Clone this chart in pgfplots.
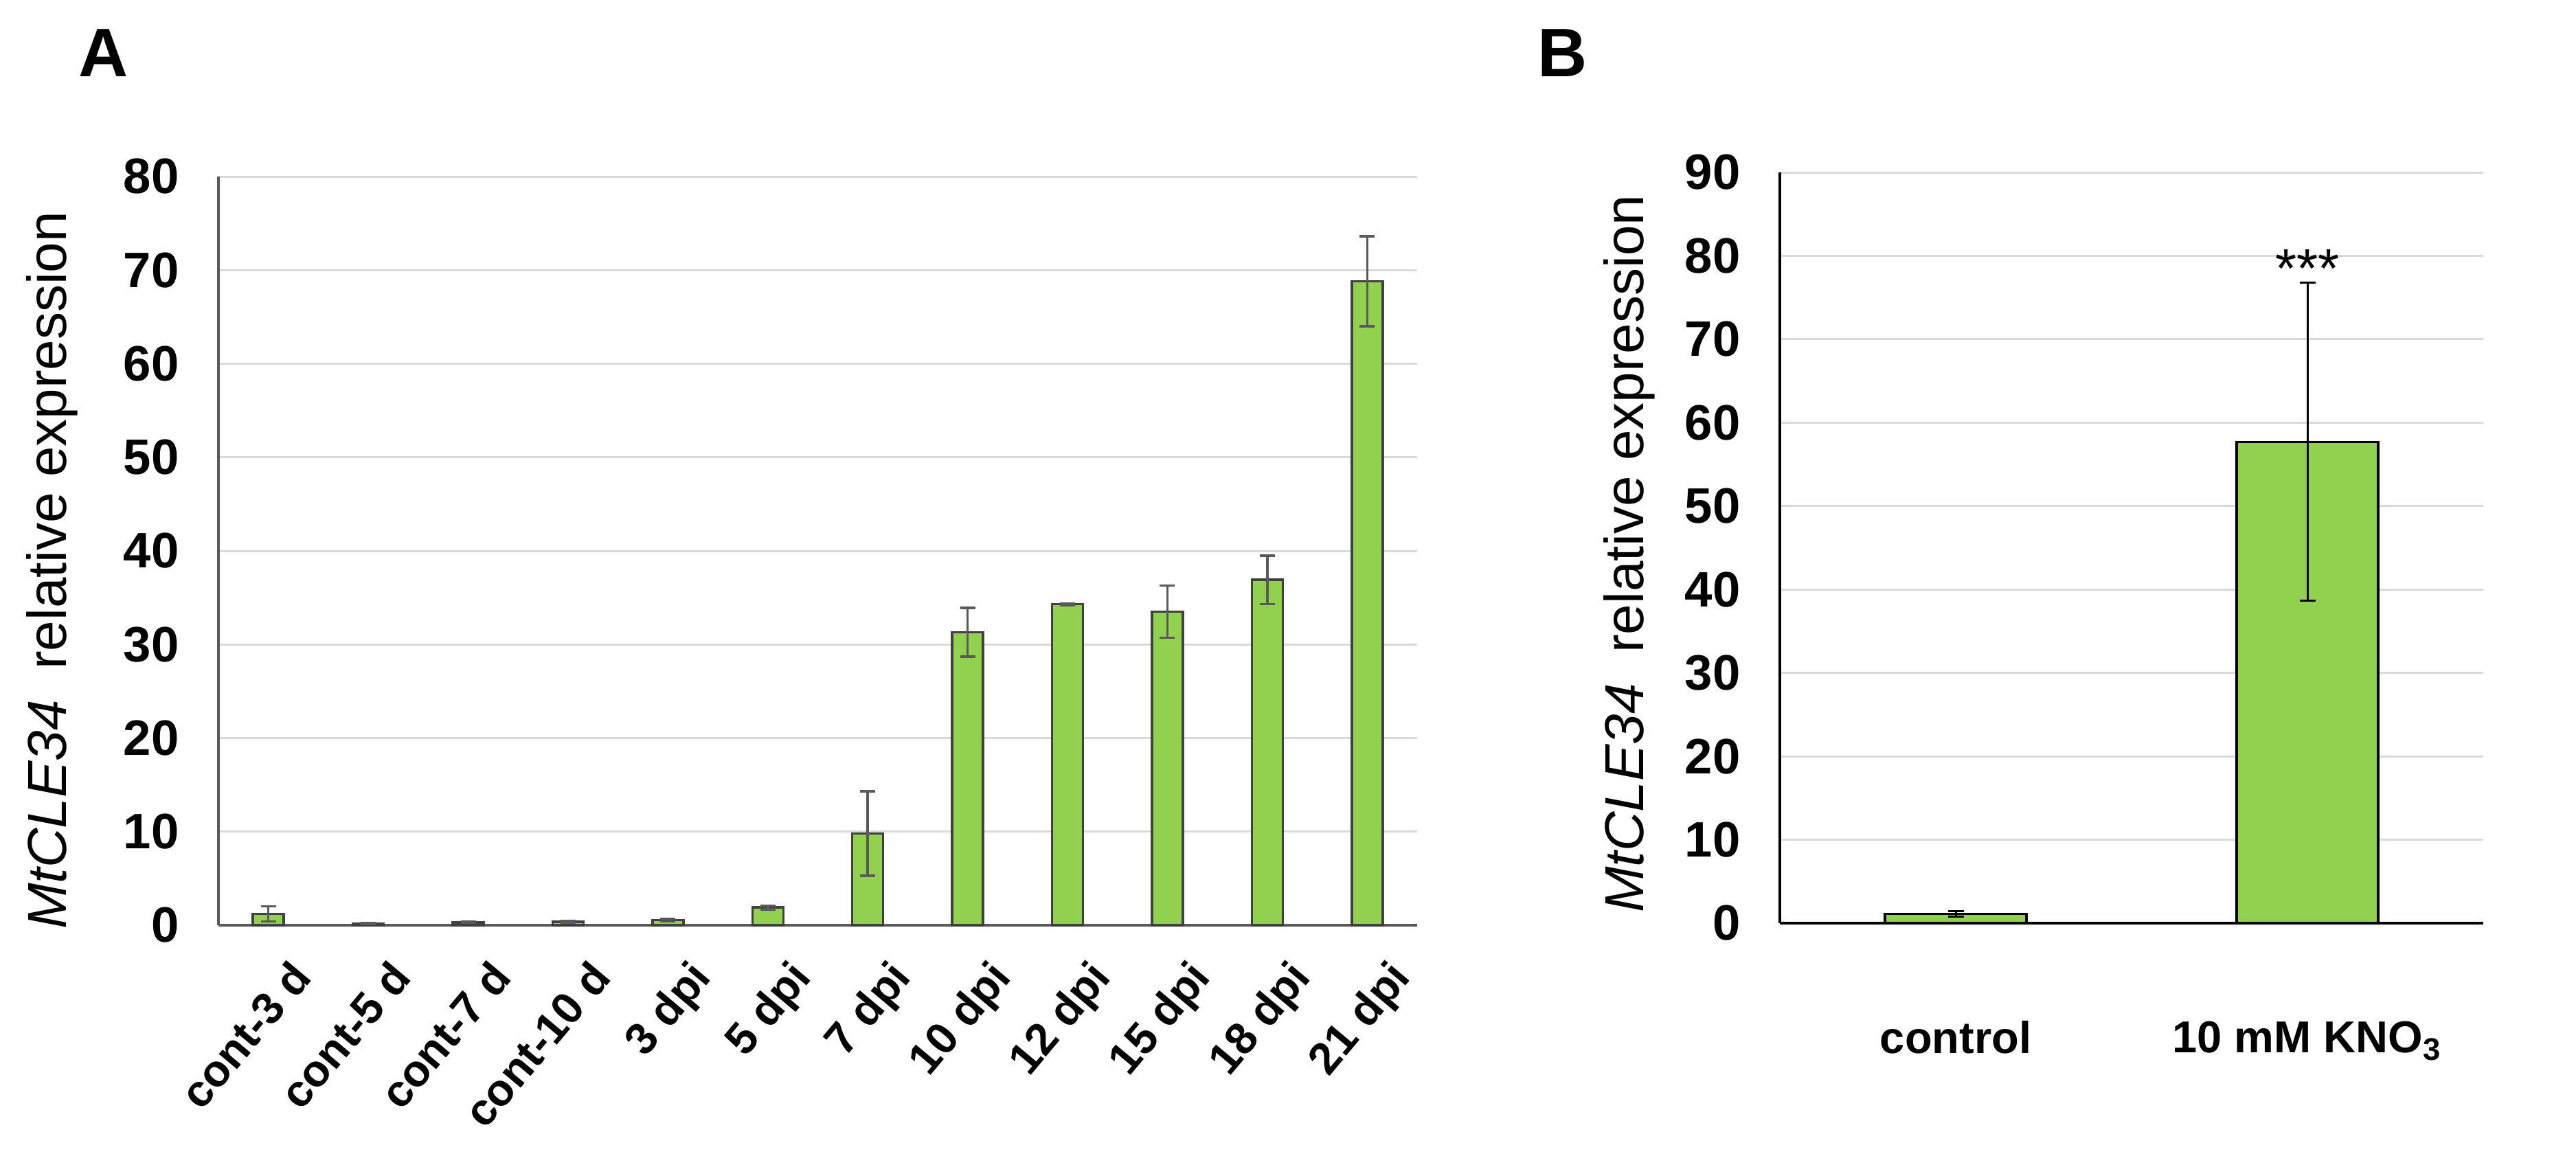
\documentclass[border=0pt]{standalone}
\usepackage{fontspec}
\setmainfont{Liberation Sans}
\usepackage{pgfplots}
\usepackage{pgfplotstable}
\pgfplotsset{compat=1.18}
\definecolor{barg}{HTML}{92D050}
\definecolor{gridc}{HTML}{D9D9D9}
\definecolor{axg}{HTML}{595959}
\definecolor{bdr}{HTML}{404040}

\pgfplotstableread{
x y e
0 1.2 0.8
1 0.2 0.05
2 0.3 0.05
3 0.35 0.1
4 0.55 0.15
5 1.9 0.2
6 9.8 4.5
7 31.3 2.6
8 34.3 0.1
9 33.5 2.8
10 36.9 2.6
11 68.8 4.8
}\dataA

\pgfplotstableread{
x y e
0 1.1 0.3
1 57.7 19.05
}\dataB

\begin{document}
\begin{tikzpicture}
\useasboundingbox (0,0) rectangle (750pt,336.6pt);

\node[font=\bfseries\fontsize{20}{24}\selectfont] at (30.2pt,321.2pt) {A};
\node[font=\bfseries\fontsize{20}{24}\selectfont] at (455pt,321.2pt) {B};

\begin{axis}[
  at={(63.6pt,67.2pt)}, anchor=south west,
  scale only axis, width=349pt, height=218pt,
  xmin=-0.5, xmax=11.5, ymin=0, ymax=80,
  ytick={0,10,...,80},
  xtick={0,...,11},
  xticklabels={cont-3 d, cont-5 d, cont-7 d, cont-10 d, 3 dpi, 5 dpi, 7 dpi, 10 dpi, 12 dpi, 15 dpi, 18 dpi, 21 dpi},
  axis x line*=bottom, axis y line*=left,
  axis line style={axg, line width=0.7pt},
  ymajorgrids, grid style={gridc, line width=0.6pt},
  major tick length=0pt,
  /pgf/number format/assume math mode=true,
  yticklabel style={font=\bfseries\fontsize{14.5}{16}\selectfont, xshift=-8pt},
  xticklabel style={font=\bfseries\fontsize{13}{15}\selectfont, rotate=50, anchor=north east, yshift=-7pt},
  ylabel={{\itshape MtCLE34}\ \ relative expression},
  ylabel style={font=\fontsize{16}{18}\selectfont, at={(axis description cs:-0.1387,0.474)}, anchor=center},
  ybar, bar width=9pt,
  clip=false,
]
\addplot[fill=barg, draw=bdr, line width=0.7pt,
  error bars/.cd, y dir=both, y explicit,
  error bar style={axg, line width=0.7pt},
  error mark options={rotate=90, mark size=2.2pt, axg, line width=0.7pt}]
  table[x=x, y=y, y error=e]{\dataA};
\end{axis}

\begin{axis}[
  at={(518.2pt,67.8pt)}, anchor=south west,
  scale only axis, width=204.8pt, height=218.6pt,
  xmin=-0.5, xmax=1.5, ymin=0, ymax=90,
  ytick={0,10,...,90},
  xtick={0,1},
  xticklabels={control, 10 mM KNO\textsubscript{3}},
  axis x line*=bottom, axis y line*=left,
  axis line style={black, line width=0.7pt},
  ymajorgrids, grid style={gridc, line width=0.6pt},
  major tick length=0pt,
  /pgf/number format/assume math mode=true,
  yticklabel style={font=\bfseries\fontsize{14.5}{16}\selectfont, xshift=-8pt},
  xticklabel style={font=\bfseries\fontsize{13}{15}\selectfont, yshift=-25pt},
  ylabel={{\itshape MtCLE34}\ \ relative expression},
  ylabel style={font=\fontsize{16}{18}\selectfont, at={(axis description cs:-0.214,0.492)}, anchor=center},
  ybar, bar width=41.2pt,
  clip=false,
]
\addplot[fill=barg, draw=black, line width=0.7pt,
  error bars/.cd, y dir=both, y explicit,
  error bar style={black, line width=0.6pt},
  error mark options={rotate=90, mark size=2.3pt, black, line width=0.6pt}]
  table[x=x, y=y, y error=e]{\dataB};
\node[font=\fontsize{16}{18}\selectfont] at (axis cs:1,78.5) {***};
\end{axis}
\end{tikzpicture}
\end{document}
